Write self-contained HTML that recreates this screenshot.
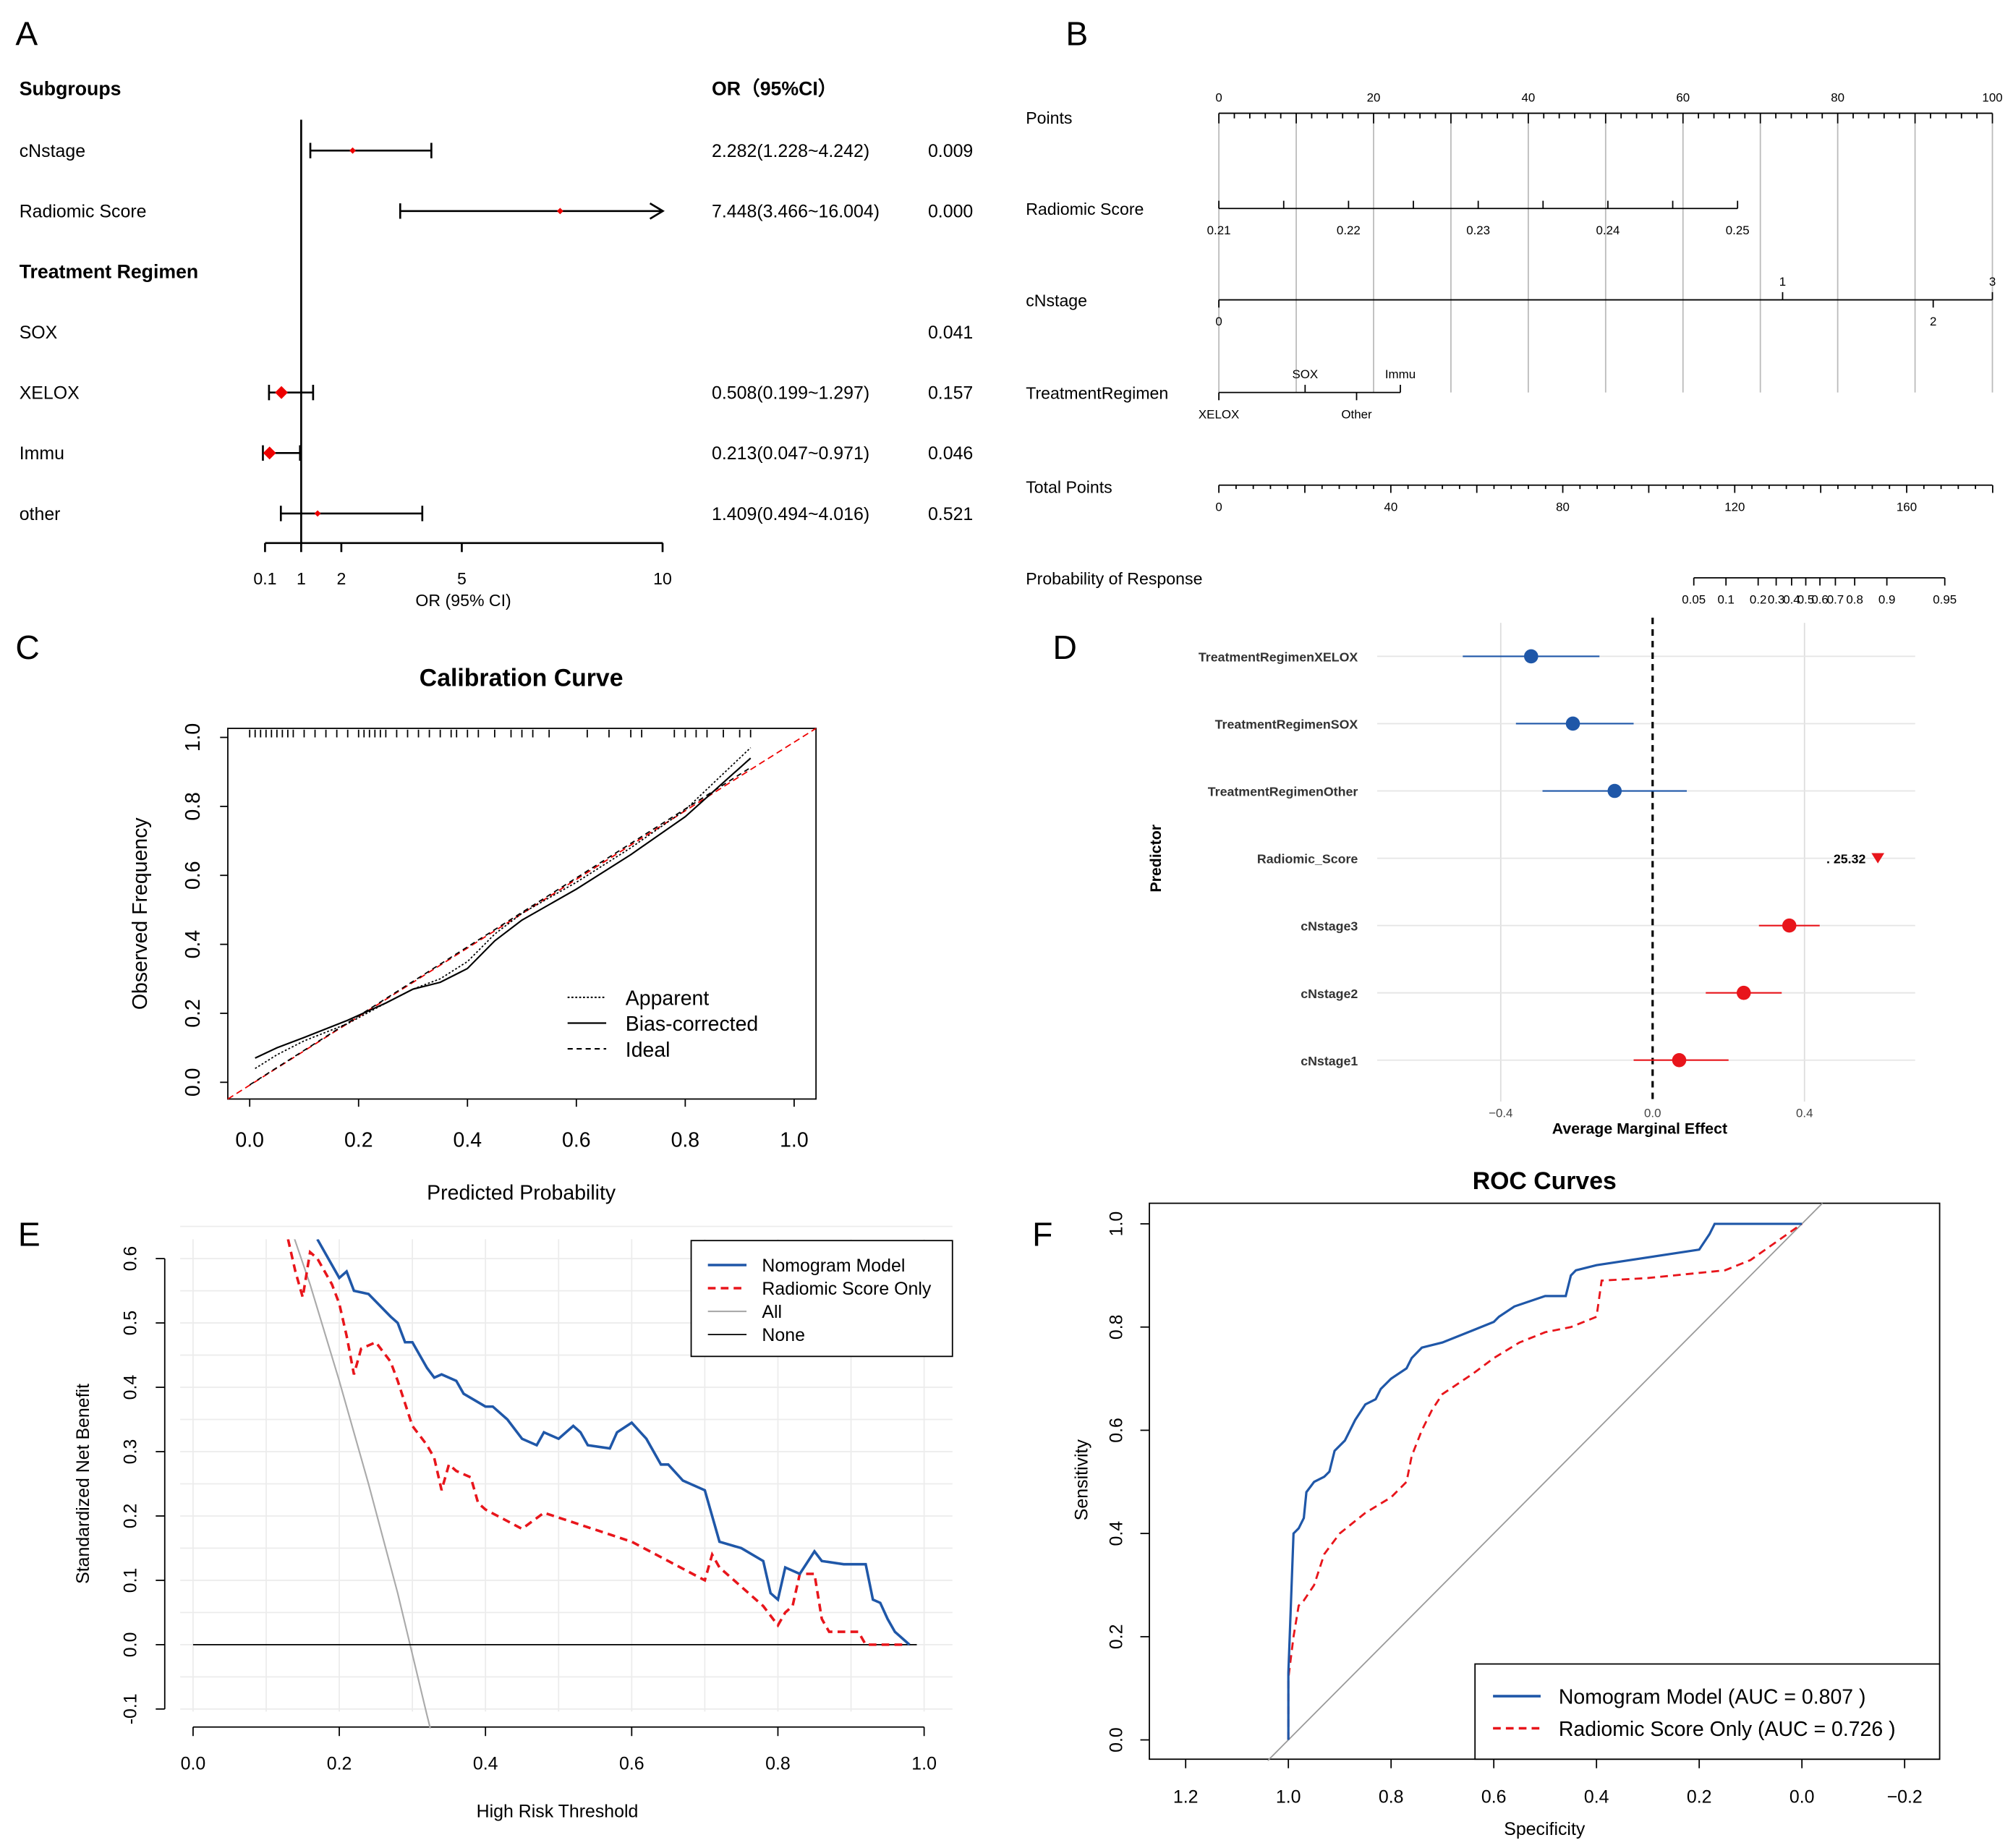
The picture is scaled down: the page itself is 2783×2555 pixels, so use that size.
<!DOCTYPE html>
<html><head><meta charset="utf-8"><style>
html,body{margin:0;padding:0;background:#fff}
svg{display:block;font-family:"Liberation Sans",Arial,sans-serif}
</style></head><body>
<svg id="fig" width="2783" height="2555" viewBox="0 0 1564 1436" preserveAspectRatio="none" xmlns="http://www.w3.org/2000/svg"></svg>
<script>
// ---------- DATA ----------
const forestLabels=["cNstage","Radiomic Score","Treatment Regimen","SOX","XELOX","Immu","other"];
const forestOR=[2.282,7.448,null,null,0.508,0.213,1.409];
const forestLo=[1.228,3.466,null,null,0.199,0.047,0.494];
const forestHi=[4.242,16.004,null,null,1.297,0.971,4.016];
const forestText=["2.282(1.228~4.242)","7.448(3.466~16.004)","","","0.508(0.199~1.297)","0.213(0.047~0.971)","1.409(0.494~4.016)"];
const forestP=["0.009","0.000","","0.041","0.157","0.046","0.521"];
const forestTicks=[0.1,1,2,5,10];
const calX=[0.01,0.05,0.1,0.18,0.25,0.3,0.35,0.4,0.45,0.5,0.6,0.7,0.8,0.92];
const calBias=[0.07,0.1,0.13,0.18,0.23,0.27,0.29,0.33,0.41,0.47,0.56,0.66,0.77,0.94];
const calApp=[0.04,0.08,0.12,0.17,0.23,0.27,0.3,0.35,0.43,0.49,0.58,0.68,0.79,0.97];
const calTicks=[0,0.2,0.4,0.6,0.8,1.0];
const meLabels=["TreatmentRegimenXELOX","TreatmentRegimenSOX","TreatmentRegimenOther","Radiomic_Score","cNstage3","cNstage2","cNstage1"];
const meEst=[-0.32,-0.21,-0.1,25.32,0.36,0.24,0.07];
const meLo=[-0.5,-0.36,-0.29,25.0,0.28,0.14,-0.05];
const meHi=[-0.14,-0.05,0.09,25.6,0.44,0.34,0.2];
const dcaBlueX=[0.17,0.2,0.21,0.22,0.24,0.27,0.28,0.29,0.3,0.32,0.33,0.34,0.36,0.37,0.4,0.41,0.43,0.45,0.47,0.48,0.5,0.51,0.52,0.53,0.54,0.57,0.58,0.6,0.62,0.64,0.65,0.67,0.7,0.72,0.75,0.78,0.79,0.8,0.81,0.83,0.85,0.86,0.89,0.92,0.93,0.94,0.95,0.96,0.98];
const dcaBlueY=[0.63,0.57,0.58,0.55,0.545,0.51,0.5,0.47,0.47,0.43,0.415,0.42,0.41,0.39,0.37,0.37,0.35,0.32,0.31,0.33,0.32,0.33,0.34,0.33,0.31,0.305,0.33,0.345,0.32,0.28,0.28,0.255,0.24,0.16,0.15,0.13,0.08,0.07,0.12,0.11,0.145,0.13,0.125,0.125,0.07,0.065,0.04,0.02,0.0];
const dcaRedX=[0.13,0.14,0.15,0.16,0.17,0.19,0.2,0.21,0.22,0.23,0.25,0.27,0.28,0.3,0.32,0.33,0.34,0.35,0.36,0.38,0.39,0.4,0.45,0.48,0.52,0.6,0.65,0.7,0.71,0.72,0.75,0.78,0.8,0.81,0.82,0.83,0.85,0.86,0.87,0.91,0.92,0.97];
const dcaRedY=[0.63,0.58,0.54,0.61,0.6,0.56,0.53,0.48,0.42,0.46,0.47,0.44,0.41,0.34,0.31,0.29,0.24,0.28,0.27,0.26,0.22,0.21,0.18,0.205,0.19,0.16,0.13,0.1,0.14,0.12,0.09,0.06,0.03,0.05,0.06,0.11,0.11,0.04,0.02,0.02,0.0,0.0];
const dcaAllX=[0.13,0.16,0.2,0.24,0.28,0.32,0.34];
const dcaAllY=[0.66,0.56,0.41,0.25,0.08,-0.11,-0.2];
const dcaXTicks=[0,0.2,0.4,0.6,0.8,1.0];
const dcaYTicks=[-0.1,0,0.1,0.2,0.3,0.4,0.5,0.6];
const rocBlueSpec=[1,1,0.99,0.98,0.97,0.965,0.95,0.93,0.92,0.91,0.89,0.87,0.85,0.83,0.82,0.8,0.77,0.76,0.74,0.7,0.65,0.6,0.59,0.56,0.5,0.46,0.45,0.44,0.4,0.2,0.18,0.17,0];
const rocBlueSens=[0,0.13,0.4,0.41,0.43,0.48,0.5,0.51,0.52,0.56,0.58,0.62,0.65,0.66,0.68,0.7,0.72,0.74,0.76,0.77,0.79,0.81,0.82,0.84,0.86,0.86,0.9,0.91,0.92,0.95,0.98,1,1];
const rocRedSpec=[1,1,0.99,0.98,0.97,0.95,0.93,0.9,0.85,0.8,0.77,0.76,0.74,0.72,0.7,0.64,0.6,0.55,0.5,0.45,0.4,0.39,0.3,0.15,0.1,0];
const rocRedSens=[0,0.12,0.2,0.26,0.27,0.3,0.36,0.4,0.44,0.47,0.5,0.55,0.6,0.64,0.67,0.71,0.74,0.77,0.79,0.8,0.82,0.89,0.895,0.91,0.93,1];
const rocXTicks=[1.2,1.0,0.8,0.6,0.4,0.2,0.0,-0.2];
const rocYTicks=[0,0.2,0.4,0.6,0.8,1.0];

// ---------- helpers ----------
const S=document.getElementById('fig');const NS="http://www.w3.org/2000/svg";
function el(tag,attrs,name,parent){const e=document.createElementNS(NS,tag);for(const k in attrs)e.setAttribute(k,attrs[k]);


(parent||S).appendChild(e);return e;}
function ln(x1,y1,x2,y2,st,w,name,dash){const a={x1,y1,x2,y2,stroke:st,'stroke-width':w||1};if(dash)a['stroke-dasharray']=dash;return el('line',a,name||'line');}
function tx(x,y,s,size,name,opt){opt=opt||{};const a={x,y,'font-size':size,fill:opt.fill||'#000','text-anchor':opt.anchor||'start'};if(opt.bold)a['font-weight']='bold';if(opt.rot)a.transform=`rotate(${opt.rot} ${x} ${y})`;const t=el('text',a,name);t.textContent=s;return t;}
function poly(xs,ys,fx,fy,st,w,name,dash){const p=xs.map((v,i)=>fx(v).toFixed(1)+','+fy(ys[i]).toFixed(1)).join(' ');const a={points:p,fill:'none',stroke:st,'stroke-width':w};if(dash)a['stroke-dasharray']=dash;return el('polyline',a,name);}

[["A",12,35],["B",828,35],["C",12,512],["D",818,512],["E",14,968],["F",802,968]].forEach(l=>tx(l[1],l[2],l[0],26,'panel-label-'+l[0].toLowerCase()));

// ---------- Panel A ----------
const ax=v=>234+(v-1)*31.2;
const ay=i=>117+i*47;
tx(15,74,"Subgroups",15,'subgroups-header',{bold:true});
tx(553,74,"OR（95%CI）",15,'or-header',{bold:true});
ln(234,93,234,422,'#000',1.5,'reference-line');
ln(ax(0.1),422,515,422,'#000',1.5,'a-x-axis');
forestTicks.forEach(t=>{ln(ax(t),422,ax(t),429,'#000',1.5,'a-x-tick');tx(ax(t),454,String(t),13,'a-x-tick-label',{anchor:'middle'});});
tx(360,471,"OR (95% CI)",13,'a-x-axis-title',{anchor:'middle'});
forestLabels.forEach((l,i)=>{const y=ay(i);const bold=l==="Treatment Regimen";
 tx(15,y+5,l,bold?15:14,'subgroup-label',{bold});
 if(forestText[i])tx(553,y+5,forestText[i],14,'or-value');
 if(forestP[i])tx(721,y+5,forestP[i],14,'p-value');
 if(forestOR[i]!=null){const hi=Math.min(ax(forestHi[i]),515);
  ln(ax(forestLo[i]),y,hi,y,'#000',1.5,'ci-line');
  ln(ax(forestLo[i]),y-6,ax(forestLo[i]),y+6,'#000',1.5,'ci-cap');
  if(ax(forestHi[i])>515){el('polyline',{points:`505,${y-6} 515,${y} 505,${y+6}`,fill:'none',stroke:'#000','stroke-width':1.5},'ci-arrow');}
  else ln(hi,y-6,hi,y+6,'#000',1.5,'ci-cap');
  const r=forestOR[i]<1?4:1.5;
  el('path',{d:`M${ax(forestOR[i])-r-1},${y} L${ax(forestOR[i])},${y-r-1} L${ax(forestOR[i])+r+1},${y} L${ax(forestOR[i])},${y+r+1}Z`,fill:'#e00'},'or-point');}
});

// ---------- Panel B nomogram ----------
const px=p=>947+p*6.01;
tx(797,96,"Points",13,'points-label');
ln(947,88,1548,88,'#000',1,'points-axis');
for(let p=0;p<=100;p+=2){ln(px(p),88,px(p),p%10?92:96,'#000',1,'points-tick');}
for(let p=0;p<=100;p+=20)tx(px(p),79,String(p),9.5,'points-tick-label',{anchor:'middle'});
for(let p=0;p<=100;p+=10)ln(px(p),96,px(p),305,'#bbb',1,'points-gridline');
tx(797,167,"Radiomic Score",13,'radiomic-score-label');
const rs=v=>947+(v-0.21)/0.04*403;
ln(947,162,1350,162,'#000',1,'radiomic-axis');
for(let k=0;k<=8;k++){const v=0.21+k*0.005;ln(rs(v),162,rs(v),156,'#000',1,'radiomic-tick');}
[0.21,0.22,0.23,0.24,0.25].forEach(v=>tx(rs(v),182,v.toFixed(2),9.5,'radiomic-tick-label',{anchor:'middle'}));
tx(797,238,"cNstage",13,'cnstage-label');
ln(947,233,1548,233,'#000',1,'cnstage-axis');
[[1385,'1',-1],[1548,'3',-1],[947,'0',1],[1502,'2',1]].forEach(a=>{ln(a[0],233,a[0],233+a[2]*6,'#000',1,'cnstage-tick');tx(a[0],a[2]<0?222:253,a[1],9.5,'cnstage-tick-label',{anchor:'middle'});});
tx(797,310,"TreatmentRegimen",13,'treatment-regimen-label');
ln(947,305,1088,305,'#000',1,'treatment-axis');
[[1014,'SOX',-1],[1088,'Immu',-1],[947,'XELOX',1],[1054,'Other',1]].forEach(a=>{ln(a[0],305,a[0],305+a[2]*6,'#000',1,'treatment-tick');tx(a[0],a[2]<0?294:325,a[1],9.5,'treatment-tick-label',{anchor:'middle'});});
tx(797,383,"Total Points",13,'total-points-label');
const tp=v=>947+v*3.34;
ln(947,377,1548,377,'#000',1,'total-points-axis');
for(let v=0;v<=180;v+=4)ln(tp(v),377,tp(v),v%20?380:383,'#000',1,'total-points-tick');
[0,40,80,120,160].forEach(v=>tx(tp(v),397,String(v),9.5,'total-points-tick-label',{anchor:'middle'}));
tx(797,454,"Probability of Response",13,'probability-label');
const probV=["0.05","0.1","0.2","0.3","0.4","0.5","0.6","0.7","0.8","0.9","0.95"];
const probX=[1316,1341,1366,1380,1392,1403,1414,1426,1441,1466,1511];
ln(1316,449,1511,449,'#000',1,'probability-axis');
probX.forEach((x,i)=>{ln(x,449,x,455,'#000',1,'probability-tick');tx(x,469,probV[i],9.5,'probability-tick-label',{anchor:'middle'});});

// ---------- Panel C ----------
const cx=v=>194+v*423, cy=v=>841-v*268;
tx(405,533,"Calibration Curve",19,'c-title',{anchor:'middle',bold:true});
el('rect',{x:177,y:566,width:457,height:288,fill:'none',stroke:'#000','stroke-width':1},'c-plot-frame');
calTicks.forEach(t=>{ln(cx(t),854,cx(t),860,'#000',1,'c-x-tick');tx(cx(t),891,t.toFixed(1),16,'c-x-tick-label',{anchor:'middle'});
 ln(171,cy(t),177,cy(t),'#000',1,'c-y-tick');tx(155,cy(t),t.toFixed(1),16,'c-y-tick-label',{anchor:'middle',rot:-90});});
tx(114,710,"Observed Frequency",16,'c-y-axis-title',{anchor:'middle',rot:-90});
tx(405,932,"Predicted Probability",16,'c-x-axis-title',{anchor:'middle'});
const rugX=[0.0,0.01,0.02,0.03,0.04,0.05,0.06,0.07,0.08,0.1,0.12,0.14,0.16,0.18,0.2,0.21,0.22,0.23,0.24,0.25,0.27,0.29,0.31,0.33,0.35,0.37,0.38,0.4,0.42,0.45,0.48,0.5,0.52,0.55,0.62,0.66,0.7,0.72,0.78,0.8,0.82,0.84,0.87,0.9,0.92];
rugX.forEach(v=>ln(cx(v),567,cx(v),573,'#000',1,'rug-tick'));
ln(177,854,634,566,'#e00',1,'c-ideal-red','5,3');
ln(cx(0.0),cy(0.0)+2,cx(0.92),cy(0.92)+2,'#000',1,'ideal-line','4,3');
poly(calX,calBias,cx,cy,'#000',1.2,'bias-corrected-line');
poly(calX,calApp,cx,cy,'#000',1,'apparent-line','1.5,1.5');
[['Apparent','1.5,1.5',779],['Bias-corrected',null,799],['Ideal','4,3',819]].forEach(l=>{ln(441,l[2]-4,471,l[2]-4,'#000',1.2,'c-legend-swatch',l[1]);tx(486,l[2]+2,l[0],16,'c-legend-label');});

// ---------- Panel D ----------
const dx=v=>1284+v*295, dy=i=>510+i*52.3;
[-0.4,0.4].forEach(v=>ln(dx(v),484,dx(v),856,'#ddd',1,'d-gridline-x'));
meLabels.forEach((l,i)=>{ln(1070,dy(i),1488,dy(i),'#e5e5e5',1,'d-gridline-y');tx(1055,dy(i)+4,l,10,'predictor-label',{anchor:'end',bold:true,fill:'#333'});});
ln(1284,480,1284,856,'#000',1.8,'zero-line','5,4');
meLabels.forEach((l,i)=>{const c=meEst[i]<0?'#1f57a8':'#e8151b';const y=dy(i);
 if(meEst[i]>2){el('path',{d:`M1454,${y-4} L1464,${y-4} L1459,${y+4}Z`,fill:c},'radiomic-arrow');tx(1419,y+4,". "+meEst[i].toFixed(2).slice(0,5),10,'radiomic-value-label',{bold:true});return;}
 ln(dx(meLo[i]),y,dx(meHi[i]),y,c,1.2,'me-ci');el('circle',{cx:dx(meEst[i]),cy:y,r:5.5,fill:c},'me-point');});
[[-0.4,'−0.4'],[0,'0.0'],[0.4,'0.4']].forEach(t=>tx(dx(t[0]),868,t[1],9.5,'d-x-tick-label',{anchor:'middle',fill:'#444'}));
tx(1274,881,"Average Marginal Effect",12,'d-x-axis-title',{anchor:'middle',bold:true});
tx(902,667,"Predictor",12,'d-y-axis-title',{anchor:'middle',bold:true,rot:-90});

// ---------- Panel E ----------
const ex=v=>150+v*568, ey=v=>1278-v*500;
for(let v=0;v<=1.0001;v+=0.1)ln(ex(v),963,ex(v),1330,'#ececec',1,'e-gridline-x');
for(let v=-0.1;v<=0.651;v+=0.05)ln(140,ey(v),740,ey(v),'#ececec',1,'e-gridline-y');
ln(ex(0),1342,ex(1),1342,'#000',1,'e-x-axis');
dcaXTicks.forEach(t=>{ln(ex(t),1342,ex(t),1349,'#000',1,'e-x-tick');tx(ex(t),1375,t.toFixed(1),14,'e-x-tick-label',{anchor:'middle'});});
ln(128,ey(-0.1),128,ey(0.6),'#000',1,'e-y-axis');
dcaYTicks.forEach(t=>{ln(121,ey(t),128,ey(t),'#000',1,'e-y-tick');tx(106,ey(t),t.toFixed(1),14,'e-y-tick-label',{anchor:'middle',rot:-90});});
tx(69,1153,"Standardized Net Benefit",14,'e-y-axis-title',{anchor:'middle',rot:-90});
tx(433,1412,"High Risk Threshold",14,'e-x-axis-title',{anchor:'middle'});
const allClip=el('clipPath',{id:'eclip'},'e-clip');el('rect',{x:128,y:963,width:620,height:380},'e-clip-rect',allClip);
poly(dcaAllX,dcaAllY,ex,ey,'#aaa',1.2,'treat-all-line').setAttribute('clip-path','url(#eclip)');
ln(ex(0),ey(0),ex(0.99),ey(0),'#000',1,'treat-none-line');
poly(dcaRedX,dcaRedY,ex,ey,'#e8151b',2,'radiomic-score-curve','6,4').setAttribute('clip-path','url(#eclip)');
poly(dcaBlueX,dcaBlueY,ex,ey,'#1f57a8',2,'nomogram-curve').setAttribute('clip-path','url(#eclip)');
el('rect',{x:537,y:964,width:203,height:90,fill:'#fff',stroke:'#000','stroke-width':1},'e-legend-box');
[['Nomogram Model','#1f57a8',2,null,983],['Radiomic Score Only','#e8151b',2,'6,4',1001],['All','#aaa',1.2,null,1019],['None','#000',1,null,1037]].forEach(l=>{ln(550,l[4],580,l[4],l[1],l[2],'e-legend-swatch',l[3]);tx(592,l[4]+5,l[0],14,'e-legend-label');});

// ---------- Panel F ----------
const fx=s=>1001+(1-s)*399, fy=v=>1352-v*401;
tx(1200,924,"ROC Curves",19,'f-title',{anchor:'middle',bold:true});
el('rect',{x:893,y:935,width:614,height:432,fill:'none',stroke:'#000','stroke-width':1},'f-plot-frame');
rocXTicks.forEach(t=>{ln(fx(t),1367,fx(t),1374,'#000',1,'f-x-tick');tx(fx(t),1401,t.toFixed(1).replace('-','−'),14,'f-x-tick-label',{anchor:'middle'});});
rocYTicks.forEach(t=>{ln(886,fy(t),893,fy(t),'#000',1,'f-y-tick');tx(872,fy(t),t.toFixed(1),14,'f-y-tick-label',{anchor:'middle',rot:-90});});
tx(845,1150,"Sensitivity",14,'f-y-axis-title',{anchor:'middle',rot:-90});
tx(1200,1426,"Specificity",14,'f-x-axis-title',{anchor:'middle'});
ln(fx(1.04),fy(-0.04),fx(-0.04),fy(1.04),'#999',1,'chance-line');
poly(rocRedSpec,rocRedSens,fx,fy,'#e8151b',1.6,'radiomic-roc-curve','6,4');
poly(rocBlueSpec,rocBlueSens,fx,fy,'#1f57a8',1.8,'nomogram-roc-curve');
el('rect',{x:1146,y:1293,width:361,height:74,fill:'#fff',stroke:'#000','stroke-width':1},'f-legend-box');
[['Nomogram Model (AUC = 0.807 )','#1f57a8',null,1318],['Radiomic Score Only (AUC = 0.726 )','#e8151b','6,4',1343]].forEach(l=>{ln(1160,l[3],1197,l[3],l[1],2,'f-legend-swatch',l[2]);tx(1211,l[3]+6,l[0],16,'f-legend-label');});
</script>
</body></html>
